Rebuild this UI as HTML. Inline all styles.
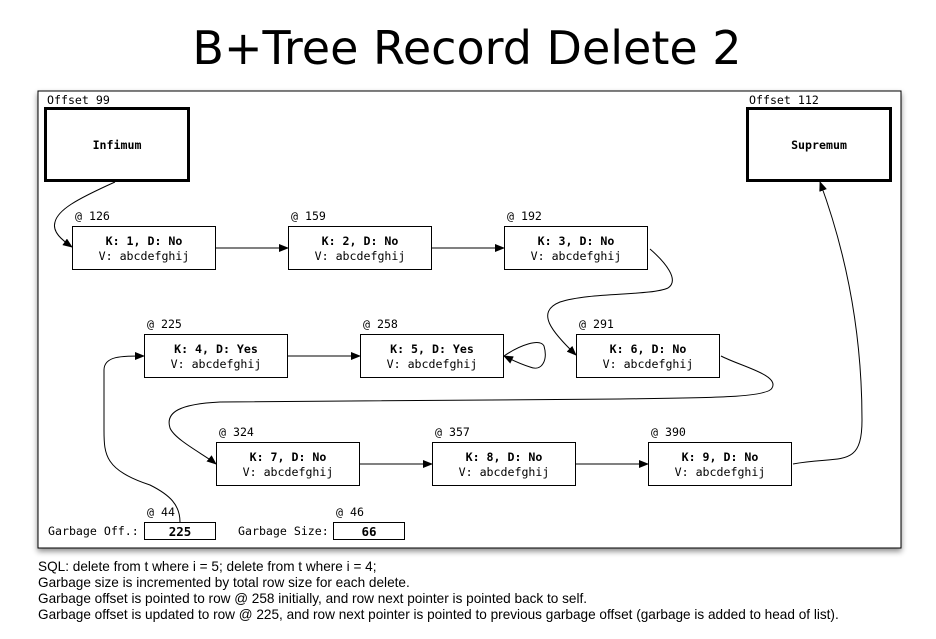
<!DOCTYPE html>
<html><head><meta charset="utf-8"><style>
html,body{margin:0;padding:0;background:#fff;}
svg{display:block}
.m{font-family:"DejaVu Sans Mono","Liberation Mono",monospace;font-size:11.6px;fill:#000}
.b{font-weight:bold}
.s{font-family:"Liberation Sans",sans-serif;font-size:13.6px;fill:#000}
</style></head><body>
<svg width="936" height="639" viewBox="0 0 936 639" xmlns="http://www.w3.org/2000/svg">
<defs>
<marker id="a" markerWidth="10" markerHeight="8" refX="9" refY="4" orient="auto" markerUnits="userSpaceOnUse"><path d="M0,0 L10,4 L0,8 z" fill="#000"/></marker>
<filter id="sh" x="-5%" y="-5%" width="110%" height="115%"><feDropShadow dx="0" dy="3" stdDeviation="3" flood-opacity="0.45"/></filter>
</defs>
<text x="467" y="64" text-anchor="middle" font-family="DejaVu Sans,Liberation Sans,sans-serif" font-size="46">B+Tree Record Delete 2</text>
<rect x="38" y="91" width="863" height="457" fill="#fff" stroke="#000" stroke-width="1" filter="url(#sh)"/>
<text class="m" x="47" y="104">Offset 99</text>
<text class="m" x="749" y="104">Offset 112</text>
<rect x="45.5" y="108.5" width="143" height="72" fill="#fff" stroke="#000" stroke-width="3"/>
<text class="m b" x="117" y="149" text-anchor="middle" font-size="12.5">Infimum</text>
<rect x="747.5" y="108.5" width="143" height="72" fill="#fff" stroke="#000" stroke-width="3"/>
<text class="m b" x="819" y="149" text-anchor="middle" font-size="12.5">Supremum</text>
<g fill="#fff" stroke="#000" stroke-width="1">
<rect x="72.5" y="226.5" width="143" height="43"/><rect x="288.5" y="226.5" width="143" height="43"/><rect x="504.5" y="226.5" width="143" height="43"/>
<rect x="144.5" y="334.5" width="143" height="43"/><rect x="360.5" y="334.5" width="143" height="43"/><rect x="576.5" y="334.5" width="143" height="43"/>
<rect x="216.5" y="442.5" width="143" height="43"/><rect x="432.5" y="442.5" width="143" height="43"/><rect x="648.5" y="442.5" width="143" height="43"/>
<rect x="144.5" y="522.5" width="71" height="17"/><rect x="333.5" y="522.5" width="71" height="17"/>
</g>
<g class="m">
<text x="75" y="220">@ 126</text><text x="291" y="220">@ 159</text><text x="507" y="220">@ 192</text>
<text x="147" y="328">@ 225</text><text x="363" y="328">@ 258</text><text x="579" y="328">@ 291</text>
<text x="219" y="436">@ 324</text><text x="435" y="436">@ 357</text><text x="651" y="436">@ 390</text>
<text x="147" y="516">@ 44</text><text x="336" y="516">@ 46</text>
<text x="48" y="535">Garbage Off.:</text><text x="238" y="535">Garbage Size:</text>
</g>
<g class="m" text-anchor="middle">
<text class="b" x="144" y="245">K: 1, D: No</text><text x="144" y="260">V: abcdefghij</text>
<text class="b" x="360" y="245">K: 2, D: No</text><text x="360" y="260">V: abcdefghij</text>
<text class="b" x="576" y="245">K: 3, D: No</text><text x="576" y="260">V: abcdefghij</text>
<text class="b" x="216" y="353">K: 4, D: Yes</text><text x="216" y="368">V: abcdefghij</text>
<text class="b" x="432" y="353">K: 5, D: Yes</text><text x="432" y="368">V: abcdefghij</text>
<text class="b" x="648" y="353">K: 6, D: No</text><text x="648" y="368">V: abcdefghij</text>
<text class="b" x="288" y="461">K: 7, D: No</text><text x="288" y="476">V: abcdefghij</text>
<text class="b" x="504" y="461">K: 8, D: No</text><text x="504" y="476">V: abcdefghij</text>
<text class="b" x="720" y="461">K: 9, D: No</text><text x="720" y="476">V: abcdefghij</text>
<text class="b" x="180" y="536" font-size="12.5">225</text><text class="b" x="369" y="536" font-size="12.5">66</text>
</g>
<g fill="none" stroke="#000" stroke-width="1" marker-end="url(#a)">
<path d="M115,182 C75,200 58,210 55,222 C52,232 62,240 72,247"/>
<path d="M216,248 L288,248"/><path d="M432,248 L504,248"/>
<path d="M650,249 C665,262 680,280 668,288 C650,296 590,292 560,302 C535,312 552,332 576,355"/>
<path d="M504,356 C520,345 540,338 544,346 C548,360 542,372 530,367 C520,364 512,360 504,356"/>
<path d="M288,356 L360,356"/>
<path d="M721,356 C740,366 780,375 772,388 C768,398 700,398 620,399 L220,402 C180,404 165,412 170,428 C175,440 205,455 216,464"/>
<path d="M360,464 L432,464"/><path d="M576,464 L648,464"/>
<path d="M793,464 C840,455 862,470 862,420 C862,330 845,250 820,182"/>
<path d="M180,522 C180,505 170,495 150,485 C105,470 104,455 104,430 L104,370 C104,355 125,356 144,356"/>
</g>
<g class="s">
<text x="38" y="571">SQL: delete from t where i = 5; delete from t where i = 4;</text>
<text x="38" y="587">Garbage size is incremented by total row size for each delete.</text>
<text x="38" y="603">Garbage offset is pointed to row @ 258 initially, and row next pointer is pointed back to self.</text>
<text x="38" y="619">Garbage offset is updated to row @ 225, and row next pointer is pointed to previous garbage offset (garbage is added to head of list).</text>
</g>
</svg>
</body></html>
